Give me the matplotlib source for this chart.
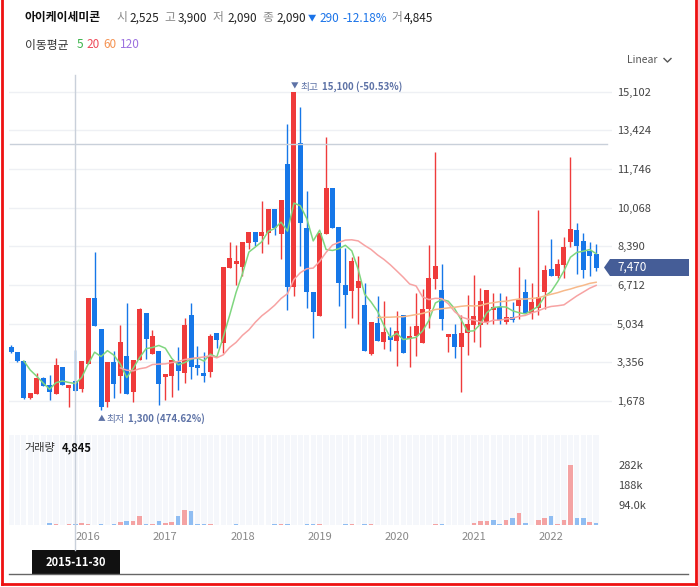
import matplotlib.pyplot as plt
import numpy as np
import pandas as pd
from matplotlib.lines import Line2D
from matplotlib.patches import Polygon, Rectangle

plt.rcParams['font.family'] = ['Noto Sans CJK KR', 'DejaVu Sans']

W, H = 698, 587

# monthly candles, Jan 2015 .. Aug 2022
opens = [4030, 3800, 3410, 1820, 2000, 2680, 2370, 2000, 3150, 2250,
         2525, 2200, 3300, 6150, 4800, 1650, 3370, 2780, 3630, 2080,
         3460, 5500, 3730, 3850, 2730, 2780, 3370, 2910, 5410, 3240,
         2890, 2950, 4630, 4190, 7460, 7640, 7510, 8550, 9010, 8850,
         8980, 10010, 8940, 11960, 6640, 12860, 9190, 6400, 5380, 8940,
         10920, 9230, 6710, 6460, 6590, 5840, 3730, 5060, 4250, 4500,
         4270, 5410, 4360, 4490, 4210, 5670, 6990, 6500, 4470, 4590,
         4030, 4620, 4990, 4990, 5110, 5630, 5740, 5110, 5310, 5810,
         6410, 5500, 5700, 6420, 7410, 7120, 7580, 8590, 9100, 8620,
         8190, 8060]
highs = [4090, 3800, 3430, 2030, 2880, 2720, 2800, 3540, 3150, 2380,
         3900, 3410, 6150, 8140, 4800, 3370, 3860, 4980, 5920, 3460,
         5710, 5500, 4760, 3850, 2860, 3460, 4020, 5280, 5920, 4080,
         3790, 4590, 4630, 7490, 8580, 8460, 8580, 9010, 9010, 10350,
         10010, 10010, 10400, 13710, 15100, 14450, 10790, 6400, 8960, 13150,
         10920, 9230, 8300, 7940, 7980, 6790, 5110, 6230, 6020, 4880,
         5600, 5410, 4950, 6350, 6530, 8450, 12480, 7610, 4570, 5010,
         5400, 6270, 7130, 6600, 6500, 6350, 6350, 6230, 5960, 7490,
         6990, 6790, 9970, 7580, 8700, 7830, 8780, 12250, 9390, 8960,
         8580, 8490]
lows = [3770, 3380, 1780, 1780, 1990, 2340, 1730, 1990, 2370, 1400,
        2090, 2080, 3300, 4950, 1300, 1430, 1820, 2010, 1990, 1650,
        3460, 3500, 3730, 1500, 1710, 1860, 2150, 2470, 2650, 2820,
        2490, 2730, 3960, 3770, 7460, 6730, 7120, 8290, 8420, 8110,
        8490, 8900, 7830, 5640, 6230, 7540, 5700, 4420, 5380, 8940,
        9200, 5790, 4860, 5290, 5010, 3830, 3690, 4270, 3920, 3830,
        3180, 3770, 3140, 3640, 4200, 4830, 6550, 4750, 3790, 3530,
        2050, 3670, 4250, 4010, 5000, 5030, 5030, 5010, 5110, 5250,
        5500, 5220, 5410, 5670, 7100, 7020, 7020, 8370, 7200, 7000,
        7120, 7310]
closes = [3800, 3430, 1820, 2020, 2680, 2340, 2080, 3240, 2370, 2380,
          2090, 3410, 6150, 4950, 1430, 3370, 2430, 4240, 1990, 3460,
          5670, 4380, 4500, 2430, 2860, 3460, 2990, 4980, 3170, 3120,
          2780, 4500, 4320, 7490, 7880, 7750, 8580, 9010, 8590, 9010,
          10010, 9190, 10400, 6640, 15100, 9420, 6420, 5550, 8960, 10920,
          9200, 6810, 6290, 7750, 6890, 3830, 5110, 4270, 4670, 4310,
          4700, 3770, 4490, 4930, 5670, 7020, 7540, 5250, 4570, 4030,
          4630, 5020, 5370, 6020, 6500, 5760, 5190, 5310, 5210, 6070,
          5500, 5970, 6190, 7360, 7100, 7620, 8360, 9140, 8420, 7350,
          7980, 7470]
volumes = [800, 600, 1200, 700, 900, 1000, 7800, 3000, 1500, 2500,
           4845, 8000, 3000, 2000, 3000, 2000, 3500, 12500, 17000, 17000,
           41000, 6000, 3000, 17000, 8000, 12500, 44000, 72000, 64000, 2500,
           2500, 2500, 2000, 800, 600, 2500, 500, 500, 400, 500,
           600, 2500, 2500, 2500, 1000, 800, 2500, 2500, 2500, 800,
           600, 500, 2500, 2500, 600, 2500, 2500, 600, 500, 400,
           300, 400, 400, 300, 500, 600, 2500, 6000, 800, 500,
           700, 900, 7800, 17000, 17000, 25000, 6000, 22000, 31000, 55000,
           8000, 2000, 25000, 31000, 41000, 3000, 22000, 280000, 34000, 31000,
           12500, 8000]
# the two months just left of the visible window (feed the moving averages)
prev_closes = [4000, 4020]

years = ['2016', '2017', '2018', '2019', '2020', '2021', '2022']
year_idx = [12, 24, 36, 48, 60, 72, 84]
price_ticks = [1678, 3356, 5034, 6712, 8390, 10068, 11746, 13424, 15102]
vol_ticks = [94000, 188000, 282000]
vol_labels = ['94.0k', '188k', '282k']
ma_periods = [5, 20, 60, 120]
ma_colors = ['#3cb44b', '#ee4a5a', '#f59352', '#9d72e0']
ma_line_colors = ['#7fd67f', '#f7a3a3', '#f7b98a', '#c2a6ee']
cursor = 10            # 2015-11-30
cursor_date = '2015-11-30'

UP, DOWN = '#ef3b3b', '#1677e8'
UP_V, DOWN_V = '#f4a3a3', '#8fbdf2'


def fx(x):
    return x / W


def fy(y):
    return 1 - y / H


fig = plt.figure(figsize=(W / 100, H / 100), dpi=100)

# price panel: x 9..612 px, y 80..430 px
x0, step = 11, 6.43
ax = fig.add_axes([fx(9), fy(430), (612 - 9) / W, 350 / H])
xl = ((9 - x0) / step, (612 - x0) / step)
ax.set_xlim(*xl)
ax.set_ylim(418, 15610)

n = len(closes)
idx = np.arange(n)
for i in idx:
    o, c = opens[i], closes[i]
    col = UP if c >= o else DOWN
    ax.vlines(i, lows[i], highs[i], color=col, lw=1, zorder=3)
    ax.bar(i, max(abs(c - o), 40), bottom=min(o, c), width=0.78,
           color=col, zorder=4)

allc = pd.Series(prev_closes + closes)
for p, lc in zip(ma_periods, ma_line_colors):
    ma = allc.rolling(p).mean().values[len(prev_closes):]
    ax.plot(idx, ma, color=lc, lw=1.1, zorder=5)

ax.set_yticks(price_ticks)
ax.set_yticklabels([f'{t:,}' for t in price_ticks])
ax.yaxis.tick_right()
ax.tick_params(axis='y', length=0, pad=3.6, labelsize=8, labelcolor='#444')
ax.set_xticks([])
ax.grid(axis='y', color='#eef0f4', lw=1)
ax.set_axisbelow(True)
for s in ax.spines.values():
    s.set_visible(False)

# volume panel: x 9..600 px, y 435..525 px
axv = fig.add_axes([fx(9), fy(525), (600 - 9) / W, 90 / H])
axv.set_xlim(xl[0], (600 - x0) / step)
axv.set_ylim(0, 423000)
axv.bar(idx, 423000, width=0.82, color='#f5f7fb', zorder=1)
prev = [prev_closes[-1]] + closes[:-1]
vcols = [UP_V if c >= pc else DOWN_V for c, pc in zip(closes, prev)]
axv.bar(idx, volumes, width=0.7, color=vcols, zorder=2)
axv.set_yticks(vol_ticks)
axv.set_yticklabels(vol_labels)
axv.yaxis.tick_right()
axv.tick_params(axis='y', length=0, pad=13, labelsize=8, labelcolor='#444')
axv.set_xticks(year_idx)
axv.set_xticklabels(years)
axv.tick_params(axis='x', length=0, pad=5, labelsize=8, labelcolor='#888')
for s in axv.spines.values():
    s.set_visible(False)

# crosshair
fig.add_artist(Line2D([fx(75), fx(75)], [fy(75), fy(550)], color='#c9d0da', lw=1))
fig.add_artist(Line2D([fx(10), fx(607)], [fy(144), fy(144)], color='#c9d0da', lw=1))
fig.add_artist(Rectangle((fx(32), fy(574)), fx(88), 24 / H, color='#111', lw=0))
fig.text(fx(76), fy(562), cursor_date, color='white', fontsize=8,
         weight='bold', ha='center', va='center')
fig.add_artist(Line2D([fx(9), fx(688)], [fy(574), fy(574)], color='#666', lw=1))

# last price tag
last = closes[-1]
tag = [(604, 267.5), (610, 259), (689, 259), (689, 276), (610, 276)]
fig.add_artist(Polygon([(fx(a), fy(b)) for a, b in tag], closed=True,
                       color='#455d97', lw=0))
fig.text(fx(617), fy(267.5), f'{last:,}', color='white', fontsize=8.5,
         va='center')

# high / low markers
hi = int(np.argmax(highs))
lo = int(np.argmin(lows))
mark_col = '#5d72a6'
fig.text(fx(291), fy(86.5), '▼', color=mark_col, fontsize=5.5, va='center')
fig.text(fx(300.5), fy(86.5), '최고', color=mark_col, fontsize=7, va='center')
fig.text(fx(322.5), fy(86.5), f'{highs[hi]:,} ({(last / highs[hi] - 1) * 100:.2f}%)',
         color=mark_col, fontsize=7, weight='bold', va='center')
fig.text(fx(98), fy(419), '▲', color=mark_col, fontsize=5.5, va='center')
fig.text(fx(106.5), fy(419), '최저', color=mark_col, fontsize=7, va='center')
fig.text(fx(128), fy(419), f'{lows[lo]:,} ({(last / lows[lo] - 1) * 100:.2f}%)',
         color=mark_col, fontsize=7, weight='bold', va='center')

# header
c = cursor
chg = closes[c] - closes[c - 1]
pct = chg / closes[c - 1] * 100
G, K, B = '#888', '#222', '#1a73e8'
hdr = [('아이케이세미콘', 24.5, '#111', 'bold', 8.5),
       ('시', 116, G, 'normal', 8.5), (f'{opens[c]:,}', 129, K, 'normal', 8.5),
       ('고', 164, G, 'normal', 8.5), (f'{highs[c]:,}', 178, K, 'normal', 8.5),
       ('저', 213, G, 'normal', 8.5), (f'{lows[c]:,}', 227, K, 'normal', 8.5),
       ('종', 262.5, G, 'normal', 8.5), (f'{closes[c]:,}', 276, K, 'normal', 8.5),
       ('▼', 308, B, 'normal', 6), (f'{abs(chg)}', 319.5, B, 'normal', 8.5),
       (f'{pct:.2f}%', 342, B, 'normal', 8.5),
       ('거', 391.5, G, 'normal', 8.5), (f'{volumes[c]:,}', 404, K, 'normal', 8.5)]
for t, x, col, w, fs in hdr:
    fig.text(fx(x), fy(18), t, color=col, fontsize=fs, weight=w, va='center')

fig.text(fx(24.5), fy(45), '이동평균', color='#333', fontsize=8.5, va='center')
for p, col, x in zip(ma_periods, ma_colors, [76.5, 86.5, 103, 120]):
    fig.text(fx(x), fy(45), str(p), color=col, fontsize=8.5, va='center')

fig.text(fx(627), fy(60), 'Linear', color='#555', fontsize=7.5, va='center')
fig.add_artist(Line2D([fx(664), fx(667.5), fx(671)], [fy(58.5), fy(62), fy(58.5)],
                      color='#555', lw=1))

fig.text(fx(24), fy(448), '거래량', color='#333', fontsize=8, va='center')
fig.text(fx(62), fy(448), f'{volumes[c]:,}', color='#111', fontsize=8,
         weight='bold', va='center')

# red frame
for xs, ys in [([1.5, 1.5], [0, 584]), ([695.5, 695.5], [0, 584]),
               ([1.5, 695.5], [584, 584])]:
    fig.add_artist(Line2D([fx(v) for v in xs], [fy(v) for v in ys],
                          color='#ee1111', lw=2))

fig.savefig('out.png', dpi=100, facecolor='white')
